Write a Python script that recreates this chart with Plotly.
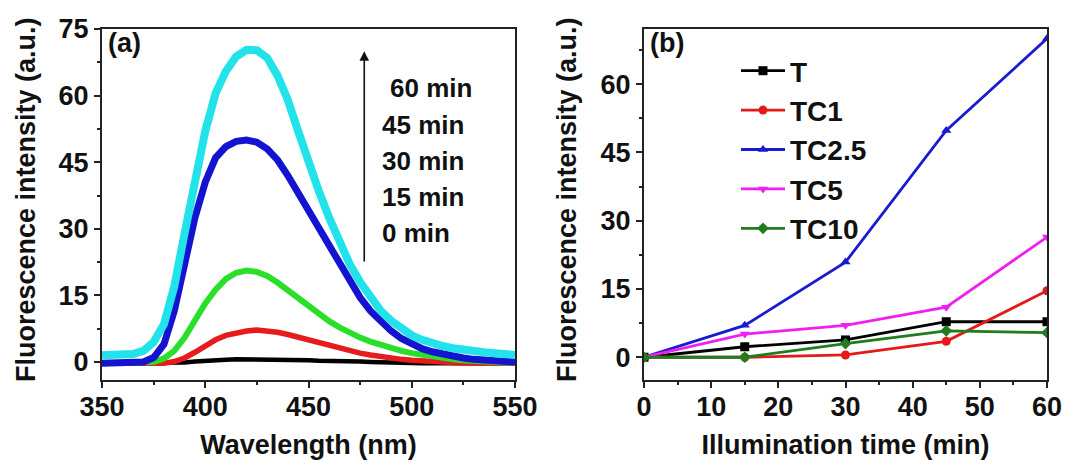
import plotly.graph_objects as go

# ---------------- data ----------------
wavelength = [350, 355, 360, 365, 370, 375, 380, 385, 390, 395, 400, 405, 410, 415, 420,
              425, 430, 435, 440, 445, 450, 455, 460, 465, 470, 475, 480, 485, 490, 495,
              500, 505, 510, 515, 520, 525, 530, 535, 540, 545, 550]

spec_0min = [-0.3, -0.3, -0.3, -0.3, -0.3, -0.3, -0.3, -0.3, -0.1, 0.1, 0.3, 0.4, 0.5, 0.6, 0.6,
             0.6, 0.6, 0.5, 0.5, 0.4, 0.4, 0.3, 0.3, 0.2, 0.1, 0.1, 0.0, -0.1, -0.1, -0.2,
             -0.3, -0.3, -0.3, -0.3, -0.3, -0.3, -0.3, -0.3, -0.3, -0.3, -0.3]
spec_15min = [-0.3, -0.3, -0.3, -0.3, -0.3, -0.3, -0.3, 0.1, 0.9, 2.2, 3.7, 5.0, 6.0, 6.6, 7.0,
              7.2, 7.0, 6.7, 6.2, 5.6, 4.9, 4.2, 3.6, 3.0, 2.5, 2.0, 1.6, 1.2, 0.9, 0.6,
              0.4, 0.2, 0.1, 0.0, -0.1, -0.2, -0.3, -0.3, -0.3, -0.3, -0.3]
spec_30min = [-0.3, -0.3, -0.3, -0.3, -0.3, 0.0, 0.8, 2.5, 5.5, 9.5, 13.2, 16.3, 18.7, 20.1, 20.6,
              20.3, 19.4, 17.9, 16.1, 14.2, 12.4, 10.7, 9.2, 7.8, 6.6, 5.5, 4.6, 3.8, 3.1, 2.5,
              2.0, 1.6, 1.2, 0.9, 0.6, 0.4, 0.2, 0.1, 0.0, -0.1, -0.1]
spec_45min = [-0.3, -0.3, -0.3, -0.2, 0.0, 1.0, 4.0, 11.5, 22.0, 32.5, 40.5, 46.0, 48.5, 49.7, 50.0,
              49.5, 48.0, 45.5, 42.0, 38.0, 34.0, 30.0, 26.0, 22.0, 18.0, 14.5, 11.5, 9.0, 7.0, 5.3,
              4.0, 3.0, 2.3, 1.7, 1.2, 0.9, 0.6, 0.4, 0.2, 0.1, 0.0]
spec_60min = [1.5, 1.5, 1.5, 1.8, 2.5, 4.5, 8.5, 17.0, 29.0, 41.0, 52.0, 60.5, 65.5, 68.8, 70.3,
              70.2, 68.5, 64.5, 59.0, 52.0, 45.0, 38.5, 32.5, 27.0, 22.0, 18.0, 14.5, 11.5, 9.3, 7.5,
              6.0, 5.0, 4.2, 3.6, 3.1, 2.7, 2.4, 2.2, 2.0, 1.8, 1.6]

spectra_labels = ["60 min", "45 min", "30 min", "15 min", "0 min"]

time_min = [0, 15, 30, 45, 60]
sample_names = ["T", "TC1", "TC2.5", "TC5", "TC10"]
T_vals = [0.0, 2.3, 3.8, 7.8, 7.8]
TC1_vals = [0.0, 0.0, 0.5, 3.5, 14.6]
TC25_vals = [0.0, 7.0, 20.9, 49.8, 70.0]
TC5_vals = [0.0, 5.1, 7.0, 11.0, 26.4]
TC10_vals = [0.0, 0.0, 3.0, 5.8, 5.4]

y_title = "Fluorescence intensity (a.u.)"

# ---------------- styling ----------------
FONT = "Liberation Sans"
W, H = 1065, 460


def px_x(p):
    return p / W


def px_y(p):
    return 1 - p / H


fig = go.Figure()

spec_series = [
    (spec_0min, "#000000", 4.5),
    (spec_15min, "#E61C1C", 5.5),
    (spec_30min, "#2ADF2A", 6),
    (spec_45min, "#1414D0", 7),
    (spec_60min, "#22E2EA", 8),
]
for ys, col, w in spec_series:
    fig.add_trace(go.Scatter(x=wavelength, y=ys, mode="lines",
                             line=dict(color=col, width=w),
                             showlegend=False, xaxis="x", yaxis="y"))

kin_series = [
    (T_vals, "#000000", "square"),
    (TC1_vals, "#E41A1A", "circle"),
    (TC25_vals, "#1A1ACF", "triangle-up"),
    (TC5_vals, "#F01EF0", "triangle-down"),
    (TC10_vals, "#1E7D1E", "diamond"),
]
for name, (ys, col, sym) in zip(sample_names, kin_series):
    fig.add_trace(go.Scatter(x=time_min, y=ys, mode="lines+markers", name=name,
                             legendgroup=name,
                             line=dict(color=col, width=2.8),
                             marker=dict(color=col, symbol=sym, size=9),
                             xaxis="x2", yaxis="y2"))

axis_common = dict(
    showline=True, linecolor="#222222", linewidth=2, mirror=True,
    ticks="outside", ticklen=6, tickwidth=1.5, tickcolor="#222222",
    showgrid=False, zeroline=False, automargin=False,
    tickfont=dict(family=FONT, size=27, color="#111111", weight="bold"),
)
title_font = dict(family=FONT, size=27, color="#111111", weight="bold")

top_px, bot_px = 29, 380
ydom = [px_y(bot_px), px_y(top_px)]

fig.update_layout(
    template="none",
    width=W, height=H,
    margin=dict(l=0, r=0, t=0, b=0),
    paper_bgcolor="white", plot_bgcolor="white",
    xaxis=dict(domain=[px_x(102), px_x(515)], range=[350, 550], anchor="y",
               tickvals=[350, 400, 450, 500, 550], ticklabelstandoff=-4,
               minor=dict(dtick=25, ticks="outside", ticklen=3, tickcolor="#222222"),
               title=dict(text="Wavelength (nm)", font=title_font, standoff=16),
               **axis_common),
    yaxis=dict(domain=ydom, range=[-4.05, 75], anchor="x",
               tickvals=[0, 15, 30, 45, 60, 75],
               minor=dict(dtick=7.5, tick0=0, ticks="outside", ticklen=3, tickcolor="#222222"),
               **axis_common),
    xaxis2=dict(domain=[px_x(644), px_x(1047)], range=[0, 60], anchor="y2",
                tickvals=[0, 10, 20, 30, 40, 50, 60], ticklabelstandoff=-4,
                minor=dict(dtick=5, ticks="outside", ticklen=3, tickcolor="#222222"),
                title=dict(text="Illumination time (min)", font=title_font, standoff=16),
                **axis_common),
    yaxis2=dict(domain=ydom, range=[-5.0, 72.1], anchor="x2",
                tickvals=[0, 15, 30, 45, 60],
                minor=dict(dtick=7.5, tick0=0, ticks="outside", ticklen=3, tickcolor="#222222"),
                **axis_common),
    legend=dict(x=px_x(736), y=px_y(46), xanchor="left", yanchor="top",
                bgcolor="rgba(0,0,0,0)", borderwidth=0,
                font=dict(family=FONT, size=28, color="#111111", weight="bold"),
                tracegroupgap=0, itemwidth=44),
    showlegend=True,
)

# y-axis titles (rotated)
fig.add_annotation(x=px_x(26), y=px_y(200), xref="paper", yref="paper", text=y_title,
                   textangle=-90, showarrow=False, xanchor="center", yanchor="middle",
                   font=title_font)
fig.add_annotation(x=px_x(567), y=px_y(200), xref="paper", yref="paper", text=y_title,
                   textangle=-90, showarrow=False, xanchor="center", yanchor="middle",
                   font=title_font)

ann_font = dict(family=FONT, size=26, color="#111111", weight="bold")
# panel labels
fig.add_annotation(x=px_x(106), y=px_y(43), xref="paper", yref="paper", text="(a)",
                   showarrow=False, xanchor="left", yanchor="middle", font=title_font)
fig.add_annotation(x=px_x(648), y=px_y(43), xref="paper", yref="paper", text="(b)",
                   showarrow=False, xanchor="left", yanchor="middle", font=title_font)

# arrow in panel (a)
fig.add_annotation(x=477, y=70.0, ax=477, ay=22.3, xref="x", yref="y", axref="x", ayref="y",
                   text="", showarrow=True, arrowhead=2, arrowsize=1.2, arrowwidth=1.6,
                   arrowcolor="#111111")
label_ypx = [88, 125, 161, 197, 233]
label_xpx = [388, 380, 380, 380, 380]
for t, xx, yy in zip(spectra_labels, label_xpx, label_ypx):
    fig.add_annotation(x=px_x(xx), y=px_y(yy), xref="paper", yref="paper", text=t,
                       showarrow=False, xanchor="left", yanchor="middle", font=ann_font)

fig.write_html("out.html")
